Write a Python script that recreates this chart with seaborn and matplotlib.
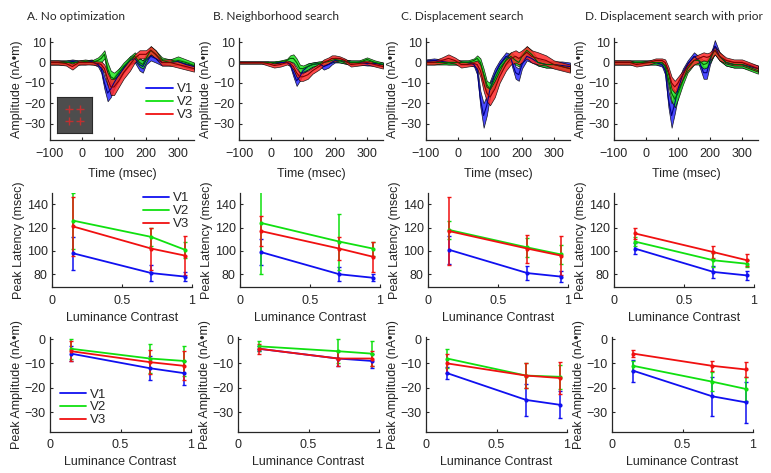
import numpy as np
import pandas as pd
import matplotlib
matplotlib.use('Agg')
import matplotlib.pyplot as plt
import seaborn as sns
from matplotlib.lines import Line2D

# ---- waveforms (top row): time grid, mean and half-width per area ----
T = [-100, -75, -50, -30, -10, 10, 30, 50, 60, 70, 80, 90, 100, 115, 130,
     150, 165, 180, 190, 200, 215, 230, 250, 275, 300, 325, 350]

A_V1 = [0, 0, 0, 0.5, 0, 0, 0.5, -1, -3, -10, -15, -13, -10, -6, -3, 1, 2, -1, -2, 1, 3, 2, 0, 0, 0.5, -1, -2]
A_V1_sd = [1, 1, 1, 1, 1, 1, 1, 1, 2, 3, 4, 4, 3, 3, 2, 2, 2, 3, 3, 2, 2, 2, 1.5, 1.5, 1.5, 1.5, 1.5]
A_V2 = [0, 0, 0, 0, 0, 0.5, 0, 1, 2, 4, -3, -7, -8, -5, -2, 1, 3, 0, -1, 2, 6, 4, 1, 0, 1, 0, -1.5]
A_V2_sd = [1, 1, 1, 1, 1, 1, 1, 1.5, 2, 2, 3, 3, 3, 2, 2, 2, 2, 2, 2, 2, 2, 2, 1.5, 1.5, 2, 1.5, 1.5]
A_V3 = [0, 0, -0.5, -2, 0, 0, 0, -0.5, -1, -3, -8, -12, -12, -9, -5, -1, 2, 4, 4, 4, 6, 4, 0, 0, -1, -2, -3]
A_V3_sd = [1, 1, 1, 1.5, 1, 1, 1, 1, 1.5, 2, 3, 4, 4, 3, 3, 3, 2, 2, 2, 2, 2, 2, 1.5, 1.5, 1.5, 1.5, 1.5]

B_V1 = [0, 0, 0, 0, 0, 0, 0, 0, -1, -5, -9, -7, -4, -2, -1, -0.5, -2, -1, 0, 1, 1, 0.5, 0, 0, -0.5, -0.5, -1]
B_V1_sd = [0.5, 0.5, 0.5, 0.5, 0.5, 0.5, 0.5, 0.5, 1, 2, 2.5, 2, 1.5, 1.5, 1, 1, 1.5, 1.5, 1, 1, 1, 1, 1, 1, 1, 1, 1]
B_V2 = [0, 0, 0, 0, 0, 0, 0.5, 1, 2, 2, 0, -3, -3, -2, -1, -0.5, 0, 0.5, 1, 1.5, 1, 0.5, 0, 0, 1.5, 0, -1]
B_V2_sd = [0.5, 0.5, 0.5, 0.5, 0.5, 0.5, 0.5, 0.8, 1.5, 2, 2, 2, 1.5, 1.5, 1, 1, 1, 1, 1, 1, 1, 1, 1, 1, 1, 1, 1]
B_V3 = [0, 0, 0, 0, -0.5, -1.5, -1, 0, -0.5, -2, -5, -7, -7, -6, -4, -2, 0, 1, 2, 2, 2, 1, -1, -0.5, 0, -1, -2]
B_V3_sd = [0.5, 0.5, 0.5, 0.5, 1, 1, 1, 1, 1, 1.5, 2, 2, 2, 2, 1.5, 1.5, 1.5, 1.5, 1.5, 1.5, 1, 1, 1, 1, 1, 1, 1]

C_V1 = [0.5, 1, 0.5, 0, 0, 0, 0, -1, -4, -18, -26, -21, -13, -6, -1, 3, 2, -5, -6, -1, 3, 2, 0, -1, -1, -1.5, -2]
C_V1_sd = [1, 1, 1, 1, 1, 1, 1, 1, 2, 4, 6, 5, 4, 3, 2, 2, 2, 3, 3, 2, 2, 2, 1.5, 1.5, 1.5, 2, 2]
C_V2 = [0, 0, 0, 0, 0, 0, 0, 1, 2, 0, -6, -12, -13, -8, -3, 1, 3, 1, 0, 3, 6, 4, 0, -1, -1, -2, -3]
C_V2_sd = [1, 1, 1, 1, 1, 1, 1, 1, 1.5, 2, 3, 3, 3, 3, 2, 2, 2, 2, 2, 2, 2, 2, 1.5, 1.5, 1.5, 1.5, 1.5]
C_V3 = [0, 0, 1, 2, 1, -1, -1, -0.5, -1, -4, -10, -15, -17, -13, -7, -1, 2, 3, 2, 3, 5, 3, 2, 1, -1, -2, -3]
C_V3_sd = [1, 1, 1.5, 2, 1.5, 1.5, 1, 1, 2, 3, 4, 4, 4, 4, 3, 3, 3, 3, 3, 3, 3, 3, 3, 2.5, 2, 2, 2]

D_V1 = [0, 0, 0, 0, 0, 0, 0, -1, -4, -18, -26, -20, -13, -6, -1, 3, 1, -5, -5, 1, 8, 3, 0, -1, -1, -2, -3]
D_V1_sd = [1, 1, 1, 1, 1, 1, 1, 1, 2, 4, 6, 5, 4, 3, 2, 2, 2, 3, 3, 2, 3, 2, 1.5, 1.5, 1.5, 1.5, 1.5]
D_V2 = [0, 0, 0, 0, 0, 0, 0, 0, -2, -8, -15, -18, -15, -9, -3, 1, 1, -1, -0.5, 2, 6, 3, 0, -1, -1, -2.5, -4]
D_V2_sd = [1, 1, 1, 1, 1, 1, 1, 1, 1.5, 3, 4, 4, 3, 2, 2, 2, 2, 2, 2, 2, 2, 2, 1.5, 1.5, 1.5, 1.5, 1.5]
D_V3 = [0, 0, 0, -1, -0.5, 0, 1, 1, 0, -4, -10, -12, -10, -6, -2, 1, 2, 3, 2.5, 3, 6, 3, 1, 0, 0, -1.5, -3]
D_V3_sd = [1, 1, 1, 1, 1, 1, 1, 1, 1.5, 2, 3, 3, 3, 2, 2, 2, 2, 2, 2, 2, 2, 2, 1.5, 1.5, 1.5, 1.5, 1.5]

# ---- contrast summaries (middle: latency, bottom: amplitude) ----
contrast = [0.15, 0.71, 0.95]

lat_A = {'V1': [98, 81, 78], 'V2': [126, 112, 101], 'V3': [121, 102, 96]}
lat_A_err = {'V1': [14, 7, 4], 'V2': [24, 8, 7], 'V3': [25, 18, 17]}
lat_B = {'V1': [99, 80, 77], 'V2': [124, 108, 102], 'V3': [117, 102, 95]}
lat_B_err = {'V1': [11, 6, 3], 'V2': [44, 24, 6], 'V3': [13, 10, 13]}
lat_C = {'V1': [101, 81, 78], 'V2': [118, 103, 97], 'V3': [117, 102, 96]}
lat_C_err = {'V1': [12, 6, 5], 'V2': [8, 8, 8], 'V3': [29, 12, 17]}
lat_D = {'V1': [102, 82, 79], 'V2': [108, 92, 89], 'V3': [115, 99, 92]}
lat_D_err = {'V1': [5, 5, 4], 'V2': [4, 6, 3], 'V3': [5, 5, 5]}

amp_A = {'V1': [-6, -12, -14], 'V2': [-4, -8, -9], 'V3': [-5, -9.5, -11]}
amp_A_err = {'V1': [3, 5, 5], 'V2': [4, 6, 6], 'V3': [4, 5, 6]}
amp_B = {'V1': [-4, -8, -9], 'V2': [-3, -5, -6], 'V3': [-4, -8, -8]}
amp_B_err = {'V1': [1, 3, 3], 'V2': [2, 5, 5], 'V3': [2, 3, 3]}
amp_C = {'V1': [-14, -25, -27], 'V2': [-8, -15, -15.5], 'V3': [-10, -15, -16]}
amp_C_err = {'V1': [2.5, 6.5, 5.5], 'V2': [4, 5, 5], 'V3': [4, 5, 6.5]}
amp_D = {'V1': [-13, -23.5, -26], 'V2': [-11, -17.5, -20.5], 'V3': [-6, -11, -12.5]}
amp_D_err = {'V1': [4.5, 8, 8.5], 'V2': [2, 4, 5], 'V3': [1.5, 2, 3]}

titles = ['A. No optimization', 'B. Neighborhood search',
          'C. Displacement search', 'D. Displacement search with prior']
areas = ['V1', 'V2', 'V3']

# inset stimulus crosses
stim_x = [-1, 1, -1, 1]
stim_y = [1, 1, -1, -1]

colors = {'V1': '#1010f0', 'V2': '#10e010', 'V3': '#f01010'}
fills = {'V1': '#2a2aff', 'V2': '#22e822', 'V3': '#ff2a2a'}
darks = {'V1': '#000080', 'V2': '#006000', 'V3': '#800000'}

sns.set_style('ticks', {'xtick.direction': 'in', 'ytick.direction': 'in'})
plt.rcParams['font.family'] = ['Liberation Sans', 'DejaVu Sans']
plt.rcParams['font.size'] = 9
plt.rcParams['axes.linewidth'] = 0.9
plt.rcParams['xtick.major.size'] = 2.5
plt.rcParams['ytick.major.size'] = 2.5
plt.rcParams['xtick.major.pad'] = 5.5
plt.rcParams['ytick.major.pad'] = 3

W, H = 771, 473
fig = plt.figure(figsize=(W / 100, H / 100), dpi=100)


def px_axes(left, top, width, height):
    return fig.add_axes([left / W, 1 - (top + height) / H, width / W, height / H])


waves = [
    (A_V1, A_V1_sd, A_V2, A_V2_sd, A_V3, A_V3_sd),
    (B_V1, B_V1_sd, B_V2, B_V2_sd, B_V3, B_V3_sd),
    (C_V1, C_V1_sd, C_V2, C_V2_sd, C_V3, C_V3_sd),
    (D_V1, D_V1_sd, D_V2, D_V2_sd, D_V3, D_V3_sd),
]
lats = [(lat_A, lat_A_err), (lat_B, lat_B_err), (lat_C, lat_C_err), (lat_D, lat_D_err)]
amps = [(amp_A, amp_A_err), (amp_B, amp_B_err), (amp_C, amp_C_err), (amp_D, amp_D_err)]

top_lefts = [50, 239, 426, 614]
mid_lefts = [52, 240, 428, 614]
bot_lefts = [50, 238, 426, 612]
title_x = [27, 213, 401, 585]

legend_handles = [Line2D([], [], color=colors[a], lw=1.3) for a in areas]


def summary_plot(ax, means, errs):
    rows = []
    for a in areas:
        for c, m in zip(contrast, means[a]):
            rows.append({'contrast': c, 'value': m, 'area': a})
    df = pd.DataFrame(rows)
    for a in areas:
        ax.errorbar(contrast, means[a], yerr=errs[a], fmt='none',
                    ecolor=colors[a], elinewidth=1.1, capsize=1.5, capthick=1.0)
    sns.lineplot(data=df, x='contrast', y='value', hue='area', palette=colors,
                 marker='o', markersize=3, markeredgewidth=0, lw=1.3,
                 legend=False, ax=ax)
    ax.set_xlim(0, 1)
    ax.set_xticks([0, 0.5, 1])
    ax.set_xticklabels(['0', '0.5', '1'])
    ax.set_xlabel('Luminance Contrast', labelpad=3.5)
    sns.despine(ax=ax)


for i in range(4):
    # --- top row: waveforms ---
    ax = px_axes(top_lefts[i], 38, 144, 102)
    w = waves[i]
    for k, a in enumerate(areas):
        m = np.array(w[2 * k], dtype=float)
        s = np.array(w[2 * k + 1], dtype=float)
        ax.fill_between(T, m - s, m + s, facecolor=fills[a], alpha=0.85,
                        edgecolor='black', linewidth=0.5)
        sns.lineplot(x=T, y=m, color=darks[a], lw=0.8, ax=ax)
    ax.set_xlim(-100, 350)
    ax.set_ylim(-38, 12)
    ax.set_xticks([-100, 0, 100, 200, 300])
    ax.set_yticks([10, 0, -10, -20, -30])
    ax.set_xlabel('Time (msec)', labelpad=6)
    ax.set_ylabel('Amplitude (nA•m)', labelpad=1)
    sns.despine(ax=ax)
    fig.text(title_x[i] / W, 1 - 16 / H, titles[i], ha='left', va='center',
             fontsize=8.6, family=['Lato', 'DejaVu Sans'])
    if i == 0:
        ax.legend(legend_handles, areas, loc='lower right', frameon=False,
                  handlelength=2.0, handletextpad=0.3, labelspacing=0.05,
                  borderaxespad=0.1, bbox_to_anchor=(1.04, 0.12), fontsize=9.5)
        ins = px_axes(57, 97, 35, 36)
        ins.set_facecolor('#4d4d4d')
        sns.scatterplot(x=stim_x, y=stim_y, marker='+', color='#c03030',
                        s=30, linewidth=1.0, ax=ins)
        ins.set_xlim(-3.2, 3.2)
        ins.set_ylim(-3.2, 3.2)
        ins.set_xticks([])
        ins.set_yticks([])
        ins.set_xlabel('')
        ins.set_ylabel('')
        for sp in ins.spines.values():
            sp.set_color('#2a2a2a')
            sp.set_linewidth(0.8)

    # --- middle row: peak latency ---
    ax = px_axes(mid_lefts[i], 192.6, 140, 94.5)
    summary_plot(ax, *lats[i])
    ax.set_ylim(69, 150)
    ax.set_yticks([80, 100, 120, 140])
    ax.set_ylabel('Peak Latency (msec)', labelpad=1)
    if i == 0:
        ax.legend(legend_handles, areas, loc='upper right', frameon=False,
                  handlelength=2.0, handletextpad=0.3, labelspacing=0.05,
                  borderaxespad=0.0, bbox_to_anchor=(1.02, 1.06), fontsize=9.5)

    # --- bottom row: peak amplitude ---
    ax = px_axes(bot_lefts[i], 336.6, 141, 95)
    summary_plot(ax, *amps[i])
    ax.set_ylim(-38, 1)
    ax.set_yticks([0, -10, -20, -30])
    ax.set_ylabel('Peak Amplitude (nA•m)', labelpad=1)
    if i == 0:
        ax.legend(legend_handles, areas, loc='lower left', frameon=False,
                  handlelength=2.0, handletextpad=0.3, labelspacing=0.05,
                  borderaxespad=0.0, bbox_to_anchor=(0.03, 0.0), fontsize=9.5)

fig.savefig('out.png', dpi=100)
